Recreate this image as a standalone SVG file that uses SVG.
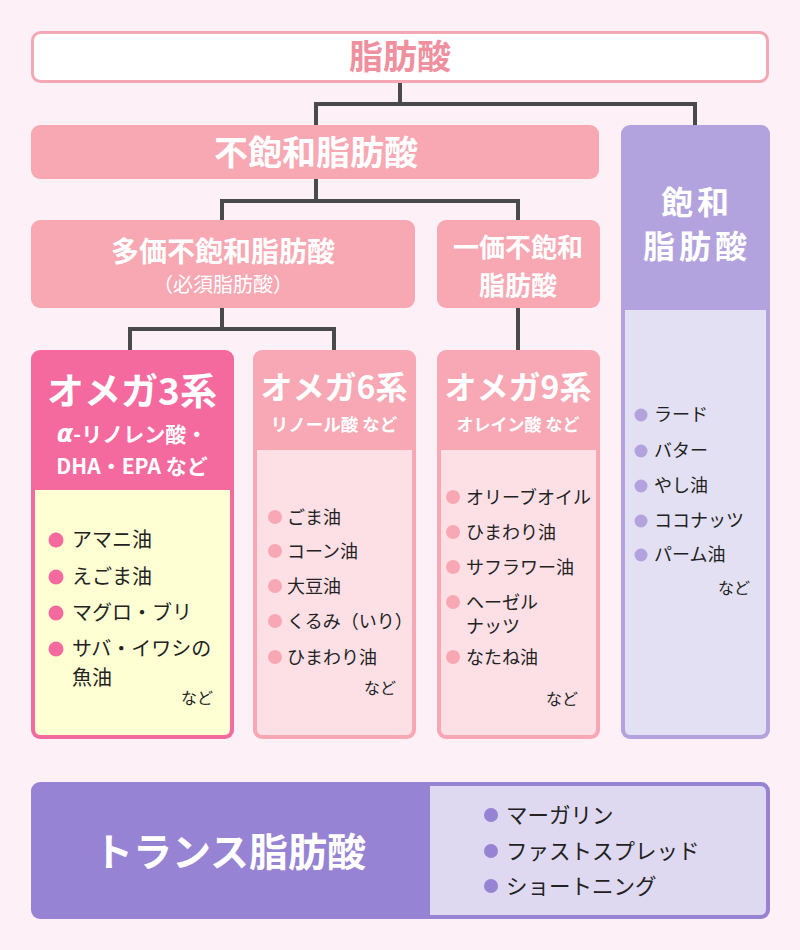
<svg xmlns="http://www.w3.org/2000/svg" width="800" height="950" viewBox="0 0 800 950">
<style>
text{font-family:"Noto Sans CJK JP","Noto Sans",sans-serif;}
.h{font-weight:700;fill:#fff;text-anchor:middle;}
.it{font-size:18px;fill:#222;}
.it20{font-size:20px;fill:#222;}
.it21{font-size:21.5px;fill:#222;}
.nd{font-size:16px;fill:#222;text-anchor:end;}
.conn{fill:none;stroke:#4a4a4a;stroke-width:4;}
</style>
<rect x="0" y="0" width="800" height="950" fill="#fdf1f7"/>
<g id="connectors">
<polyline class="conn" points="400,83 400,104 316,104 316,127"/>
<polyline class="conn" points="400,104 695,104 695,127"/>
<polyline class="conn" points="316,179 316,201 222,201 222,222"/>
<polyline class="conn" points="316,201 518,201 518,222"/>
<polyline class="conn" points="222,308 222,329 130,329 130,352"/>
<polyline class="conn" points="222,329 334,329 334,352"/>
<polyline class="conn" points="518,308 518,352"/>
</g>
<g id="fatty-acid">
<rect x="32.5" y="32.5" width="735" height="49" rx="8" fill="#fff" stroke="#f2a8b5" stroke-width="3"/>
<text x="400" y="69" font-size="34" font-weight="700" fill="#f0909f" text-anchor="middle">脂肪酸</text>
</g>
<g id="unsaturated">
<rect x="31" y="125" width="568" height="54" rx="9" fill="#f7a8b3"/>
<text class="h" x="316" y="165" font-size="34">不飽和脂肪酸</text>
</g>
<g id="saturated">
<rect x="621" y="125" width="149" height="614" rx="9" fill="#b2a3de"/>
<path d="M625,310 H766 V729 Q766,735 760,735 H631 Q625,735 625,729 Z" fill="#e3e0f4"/>
<text class="h" x="697" y="214" font-size="32" letter-spacing="4">飽和</text>
<text class="h" x="697" y="258" font-size="32" letter-spacing="4">脂肪酸</text>
<circle cx="641" cy="415" r="6.5" fill="#b2a3de"/><text class="it" x="654" y="421">ラード</text>
<circle cx="641" cy="451" r="6.5" fill="#b2a3de"/><text class="it" x="654" y="457">バター</text>
<circle cx="641" cy="486" r="6.5" fill="#b2a3de"/><text class="it" x="654" y="492">やし油</text>
<circle cx="641" cy="521" r="6.5" fill="#b2a3de"/><text class="it" x="654" y="527">ココナッツ</text>
<circle cx="641" cy="555" r="6.5" fill="#b2a3de"/><text class="it" x="654" y="561">パーム油</text>
<text class="nd" x="750" y="594">など</text>
</g>
<g id="polyunsaturated">
<rect x="31" y="220" width="384" height="88" rx="9" fill="#f7a8b3"/>
<text class="h" x="223" y="262" font-size="28">多価不飽和脂肪酸</text>
<text class="h" x="223" y="292" font-size="20" style="font-weight:400">（必須脂肪酸）</text>
</g>
<g id="monounsaturated">
<rect x="437" y="220" width="163" height="88" rx="9" fill="#f7a8b3"/>
<text class="h" x="518" y="257" font-size="26">一価不飽和</text>
<text class="h" x="518" y="295" font-size="26">脂肪酸</text>
</g>
<g id="omega3">
<rect x="31" y="350" width="203" height="389" rx="9" fill="#f46a9e"/>
<path d="M35,490 H230 V729 Q230,735 224,735 H41 Q35,735 35,729 Z" fill="#ffffd4"/>
<text class="h" x="132" y="405" font-size="37">オメガ3系</text>
<text class="h" x="132" y="442" font-size="21"><tspan font-family="'DejaVu Sans',sans-serif" font-style="italic" font-size="24">α</tspan>-リノレン酸・</text>
<text class="h" x="132" y="474" font-size="21">DHA・EPA など</text>
<circle cx="56" cy="540" r="7.5" fill="#f46a9e"/><text class="it20" x="72" y="547">アマニ油</text>
<circle cx="56" cy="577" r="7.5" fill="#f46a9e"/><text class="it20" x="72" y="584">えごま油</text>
<circle cx="56" cy="613" r="7.5" fill="#f46a9e"/><text class="it20" x="72" y="620">マグロ・ブリ</text>
<circle cx="56" cy="649" r="7.5" fill="#f46a9e"/><text class="it20" x="72" y="656">サバ・イワシの</text>
<text class="it20" x="72" y="685">魚油</text>
<text class="nd" x="213" y="704">など</text>
</g>
<g id="omega6">
<rect x="253" y="350" width="163" height="389" rx="9" fill="#f7a8b4"/>
<path d="M257,450 H412 V729 Q412,735 406,735 H263 Q257,735 257,729 Z" fill="#fde0e6"/>
<text class="h" x="334" y="399" font-size="32">オメガ6系</text>
<text class="h" x="334" y="431" font-size="17.5">リノール酸 など</text>
<circle cx="275" cy="517" r="7" fill="#f7a8b4"/><text class="it" x="287" y="524">ごま油</text>
<circle cx="275" cy="551" r="7" fill="#f7a8b4"/><text class="it" x="287" y="558">コーン油</text>
<circle cx="275" cy="586" r="7" fill="#f7a8b4"/><text class="it" x="287" y="593">大豆油</text>
<circle cx="275" cy="621" r="7" fill="#f7a8b4"/><text class="it" x="287" y="628">くるみ（いり）</text>
<circle cx="275" cy="657" r="7" fill="#f7a8b4"/><text class="it" x="287" y="664">ひまわり油</text>
<text class="nd" x="396" y="694">など</text>
</g>
<g id="omega9">
<rect x="437" y="350" width="163" height="389" rx="9" fill="#f7a8b4"/>
<path d="M441,450 H596 V729 Q596,735 590,735 H447 Q441,735 441,729 Z" fill="#fde0e6"/>
<text class="h" x="518" y="399" font-size="32">オメガ9系</text>
<text class="h" x="518" y="431" font-size="17">オレイン酸 など</text>
<circle cx="453" cy="497" r="7" fill="#f7a8b4"/><text class="it" x="466" y="504">オリーブオイル</text>
<circle cx="453" cy="532" r="7" fill="#f7a8b4"/><text class="it" x="466" y="539">ひまわり油</text>
<circle cx="453" cy="567" r="7" fill="#f7a8b4"/><text class="it" x="466" y="574">サフラワー油</text>
<circle cx="453" cy="602" r="7" fill="#f7a8b4"/><text class="it" x="466" y="609">ヘーゼル</text>
<text class="it" x="466" y="633">ナッツ</text>
<circle cx="453" cy="657" r="7" fill="#f7a8b4"/><text class="it" x="466" y="664">なたね油</text>
<text class="nd" x="578" y="705">など</text>
</g>
<g id="trans">
<rect x="31" y="782" width="739" height="137" rx="9" fill="#9783d3"/>
<path d="M430,786 H760 Q766,786 766,792 V909 Q766,915 760,915 H430 Z" fill="#ded8f1"/>
<text class="h" x="230" y="866" font-size="39">トランス脂肪酸</text>
<circle cx="491" cy="815" r="7" fill="#9783d3"/><text class="it21" x="506" y="823">マーガリン</text>
<circle cx="491" cy="851" r="7" fill="#9783d3"/><text class="it21" x="506" y="859">ファストスプレッド</text>
<circle cx="491" cy="886" r="7" fill="#9783d3"/><text class="it21" x="506" y="894">ショートニング</text>
</g>
</svg>
